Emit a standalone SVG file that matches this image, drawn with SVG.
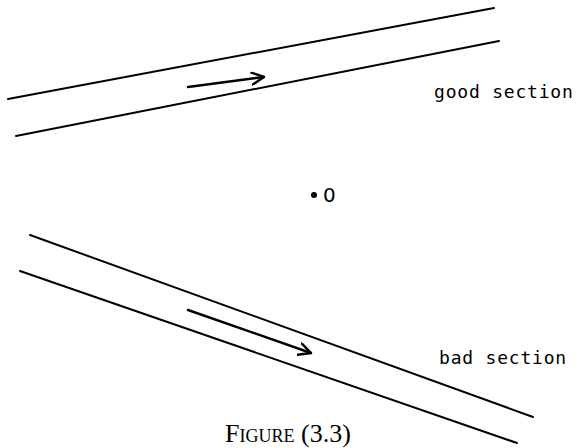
<svg xmlns="http://www.w3.org/2000/svg" width="577" height="448" viewBox="0 0 577 448">
<style>
.ln{stroke:#000;stroke-width:2;fill:none;stroke-linecap:round}
.ar{stroke:#000;stroke-width:2.4;fill:none;stroke-linecap:round;stroke-linejoin:round}
.lbl{font-family:"DejaVu Sans Mono","Liberation Mono",monospace;font-size:18px;letter-spacing:0.8px;fill:#000}
</style>
<defs>
<marker id="chev" viewBox="0 0 14 14" refX="13" refY="7" markerWidth="14" markerHeight="14" markerUnits="userSpaceOnUse" orient="auto">
<path d="M1,1 L13,7 L1,13" fill="none" stroke="#000" stroke-width="2.4" stroke-linecap="round" stroke-linejoin="round"/>
</marker>
</defs>
<rect width="577" height="448" fill="#fff"/>
<g id="good-section">
<line class="ln" x1="8" y1="99" x2="494" y2="8"/>
<line class="ln" x1="16" y1="136" x2="499" y2="41"/>
<text class="lbl" x="434" y="98">good section</text>
</g>
<g id="origin">
<circle cx="314" cy="195" r="3" fill="#000"/>
<text x="323" y="202" font-family="DejaVu Sans" font-size="20" fill="#000">0</text>
</g>
<g id="bad-section">
<line class="ln" x1="30" y1="235" x2="533" y2="417"/>
<line class="ln" x1="20" y1="271" x2="517" y2="443"/>
<text class="lbl" x="439" y="364">bad section</text>
</g>
<g id="connectors">
<line class="ar" x1="188" y1="87" x2="264" y2="77" marker-end="url(#chev)"/>
<line class="ar" x1="188" y1="310" x2="311" y2="353" marker-end="url(#chev)"/>
</g>
<text x="288" y="442" text-anchor="middle" font-family="Liberation Serif" font-size="26" font-variant="small-caps" fill="#000">Figure (3.3)</text>
</svg>
